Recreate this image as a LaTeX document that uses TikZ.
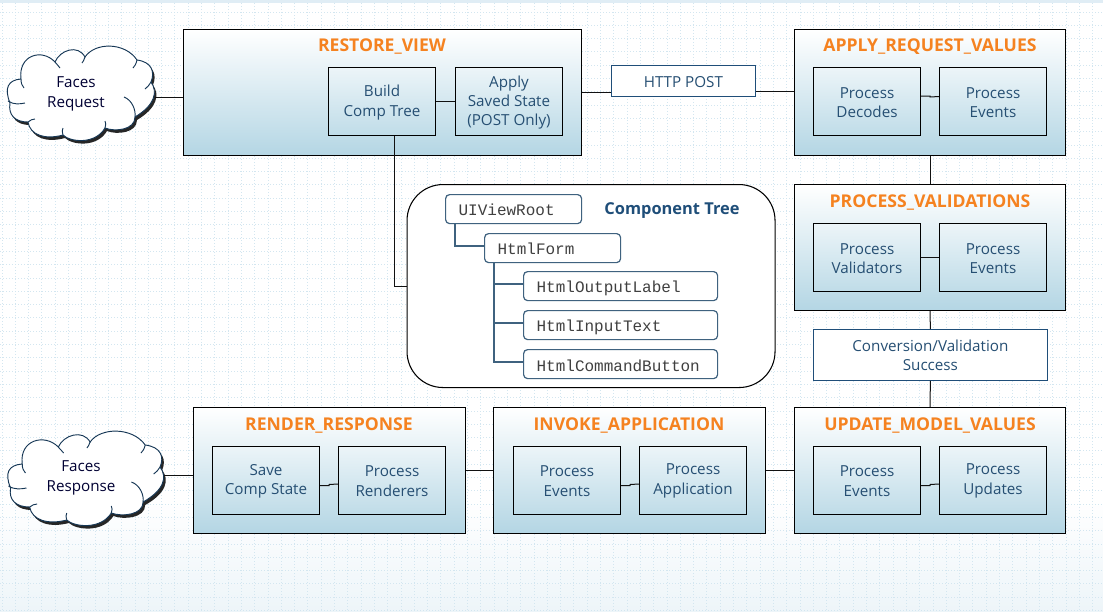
\documentclass[tikz,border=0pt]{standalone}
\usepackage{fontspec}
\setmainfont{Open Sans}
\setmonofont{Liberation Mono}
\definecolor{boxbot}{HTML}{B4D6E4}
\definecolor{ttl}{HTML}{F58220}
\definecolor{bodyc}{HTML}{264F73}
\definecolor{treec}{HTML}{1F4E79}
\definecolor{gridc}{HTML}{D3E6F0}
\definecolor{linec}{HTML}{111111}
\definecolor{treeline}{HTML}{3F627F}
\tikzset{
 x=0.75pt,y=-0.75pt,
 phase/.style={draw=black,line width=0.75pt,top color=white,bottom color=boxbot,anchor=north west,inner sep=0pt,minimum width=#1*0.75pt,minimum height=94.5pt},
 inner/.style={draw=black,line width=0.75pt,top color=white!75!boxbot,bottom color=boxbot!85!white,anchor=north west,inner sep=0pt,minimum width=80.25pt,minimum height=51pt},
 innertext/.style={inner sep=0pt,yshift=-0.75pt,align=center,text=bodyc,font=\fontsize{11.4}{14.5}\selectfont},
 title/.style={text=ttl,font=\bfseries\fontsize{13.2}{14}\selectfont,inner sep=0pt},
 note/.style={draw=treec,line width=0.6pt,fill=white,anchor=north west,inner sep=0pt},
 treebox/.style={draw=treeline,line width=0.9pt,fill=white,rounded corners=3pt,anchor=north west,inner xsep=9.75pt,inner ysep=0pt,minimum height=21.75pt,text width=#1*0.75pt-19.5pt,align=left,font=\ttfamily\fontsize{12}{12}\selectfont,text=black!75},
 link/.style={draw=linec,line width=0.75pt},
 tlink/.style={draw=treeline,line width=0.9pt},
 cloudtext/.style={align=center,text=black!80!blue,font=\fontsize{11.4}{15}\selectfont,inner sep=0pt},
}
\newcommand{\ibox}[4]{\node[inner] (#1) at (#2,#3) {}; \node[innertext] (#1t) at (#1.center) {#4};}
\newcommand{\lowered}[2]{\raisebox{-#1pt}[\height][\depth]{#2}}
\newcommand{\cloudpath}{(10,103) .. controls (4,88) and (8,80) .. (21,79)
 .. controls (18,55) and (42,48) .. (55,62)
 .. controls (60,50) and (78,44) .. (85,57)
 .. controls (95,42) and (125,42) .. (137,60)
 .. controls (152,62) and (155,72) .. (151,82)
 .. controls (158,92) and (155,105) .. (135,117)
 .. controls (135,130) and (115,132) .. (105,128)
 .. controls (95,145) and (70,142) .. (63,135)
 .. controls (45,140) and (30,135) .. (28,122)
 .. controls (15,122) and (8,115) .. (10,103) -- cycle}
\newcommand{\cloudlines}{
 (21,79) .. controls (21,83) and (22,86) .. (24,88)
 (8,101) .. controls (14,105) and (20,104) .. (25,103)
 (55,62) .. controls (57,65) and (59,66) .. (60,68)
 (85,57) .. controls (84,60) and (83,62) .. (82,63)
 (137,60) .. controls (136,64) and (135,66) .. (133,68)
 (151,82) .. controls (149,85) and (148,87) .. (145,89)
 (124,97) .. controls (132,100) and (136,110) .. (135,117)
 (105,128) .. controls (106,125) and (106,123) .. (105,121)
 (63,135) .. controls (62,132) and (62,130) .. (63,128)
 (28,122) .. controls (30,120) and (33,119) .. (35,119)}
\begin{document}
\begin{tikzpicture}
\useasboundingbox (0,0) rectangle (1103,611);
% page background
\fill[white] (0,0) rectangle (1103,611);
\fill[top color=white,bottom color=gridc!40] (0,500) rectangle (1103,611);
\fill[gridc!70] (0,0) rectangle (1103,2.5);
\begin{scope}[draw=gridc,line width=0.75pt,dash pattern=on 0.75pt off 1.5pt]
\foreach \gx in {2,15.3,...,1103} \draw (\gx,3) -- (\gx,611);
\foreach \gy in {12,25.3,...,611} \draw (0,\gy) -- (1103,\gy);
\end{scope}
% clouds
\begin{scope}
 \fill[black!85] [shift={(2,3)}] \cloudpath;
 \draw[fill=white,draw=treec!70!black,line width=0.7pt] \cloudpath;
 \draw[draw=treec!70!black,line width=0.7pt] \cloudlines;
\end{scope}
\begin{scope}[shift={(0,385)},xscale=1.06]
 \fill[black!85] [shift={(2,3)}] \cloudpath;
 \draw[fill=white,draw=treec!70!black,line width=0.7pt] \cloudpath;
 \draw[draw=treec!70!black,line width=0.7pt] \cloudlines;
\end{scope}
\node[cloudtext] (freq) at (76,93.5) {Faces\\Request};
\node[cloudtext] (fres) at (81,478) {Faces\\Response};
\coordinate (freqout) at (155,97);
\coordinate (fresout) at (164,475);
% phases
\node[phase=398] (restore) at (183,29) {};
\node[title] (restoretitle) at (382,46.5) {RESTORE\_VIEW};
\ibox{build}{328}{67}{Build\\Comp Tree}
\ibox{saved}{455}{67}{Apply\\Saved State\\(POST Only)}
\node[phase=271] (apply) at (794,29) {};
\node[title] (applytitle) at (930,46.5) {APPLY\_REQUEST\_VALUES};
\ibox{decodes}{813}{67}{Process\\Decodes}
\ibox{aevents}{939}{67}{Process\\Events}
\node[phase=271] (valid) at (794,184) {};
\node[title] (validtitle) at (930,202.5) {PROCESS\_VALIDATIONS};
\ibox{validators}{813}{223}{Process\\Validators}
\ibox{vevents}{939}{223}{Process\\Events}
\node[phase=271] (update) at (794,407) {};
\node[title] (updatetitle) at (930,425.5) {UPDATE\_MODEL\_VALUES};
\ibox{uevents}{813}{445.5}{Process\\Events}
\ibox{updates}{939}{445.5}{Process\\Updates}
\node[phase=272] (invoke) at (493,407) {};
\node[title] (invoketitle) at (629,425.5) {INVOKE\_APPLICATION};
\ibox{ievents}{513}{445.5}{Process\\Events}
\ibox{iapp}{639}{445.5}{Process\\Application}
\node[phase=272] (render) at (193,407) {};
\node[title] (rendertitle) at (329,425.5) {RENDER\_RESPONSE};
\ibox{savestate}{212}{445.5}{Save\\Comp State}
\ibox{renderers}{338}{445.5}{Process\\Renderers}
% notes
\node[note,minimum width=108pt,minimum height=23.25pt] (post) at (611,65) {};
\node[innertext,yshift=0pt] (postt) at (post.center) {HTTP POST};
\node[note,minimum width=175.5pt,minimum height=38.25pt] (conv) at (813,329) {};
\node[innertext,yshift=0.5pt] (convt) at (conv.center) {Conversion/Validation\\Success};
% component tree
\node[draw=black,line width=0.8pt,fill=white,rounded corners=27pt,anchor=north west,minimum width=276pt,minimum height=152.25pt,inner sep=0pt] (tree) at (406.5,184) {};
\node[text=treec,font=\bfseries\fontsize{12.3}{14}\selectfont,inner sep=0pt] (treelabel) at (672,210.5) {Component Tree};
\node[treebox=136] (root) at (445,194) {\lowered{0.75}{UIViewRoot}};
\node[treebox=136] (form) at (484,233) {\lowered{0.75}{HtmlForm}};
\node[treebox=194] (olabel) at (523,271) {\lowered{2}{HtmlOutputLabel}};
\node[treebox=194] (itext) at (523,310) {\lowered{1.5}{HtmlInputText}};
\node[treebox=194] (cbtn) at (523,349) {\lowered{1.5}{HtmlCommandButton}};
% connectors
\draw[link] (freqout) -- (freqout -| restore.west);
\draw[link] (fresout) -- (fresout -| render.west);
\draw[link] (build.east) -- (saved.west);
\draw[link] (restore.east |- 0,92.5) -- (post.west |- 0,92.5);
\draw[link] (post.east |- 0,91.5) -- (apply.west |- 0,91.5);
\draw[link] (decodes.east) ++(0,-5.5) -- ++(9,0) -- ++(0,1) -- (aevents.west |- 0,96.5);
\draw[link] (validators.east) -- (vevents.west);
\draw[link] (uevents.east) ++(0,5.5) -- ++(9,0) -- ++(0,-1) -- (updates.west |- 0,484);
\draw[link] (ievents.east) ++(0,5.5) -- ++(9,0) -- ++(0,-1) -- (iapp.west |- 0,484);
\draw[link] (savestate.east) ++(0,5.5) -- ++(9,0) -- ++(0,-1) -- (renderers.west |- 0,484);
\draw[link] (apply.south) -- (valid.north);
\draw[link] (valid.south) -- (conv.north);
\draw[link] (conv.south) -- (update.north);
\draw[link] (update.west |- 0,470) -- (invoke.east |- 0,470);
\draw[link] (invoke.west |- 0,470) -- (render.east |- 0,470);
\draw[link] (build.south -| 394,0) |- (tree.west |- 0,286);
\draw[tlink] (root.south -| 455,0) |- (form.west |- 0,246);
\draw[tlink] (form.south -| 494,0) |- (cbtn.west |- 0,362);
\draw[tlink] (form.south -| 494,0) |- (olabel.west |- 0,284);
\draw[tlink] (form.south -| 494,0) |- (itext.west |- 0,323);
\end{tikzpicture}
\end{document}
